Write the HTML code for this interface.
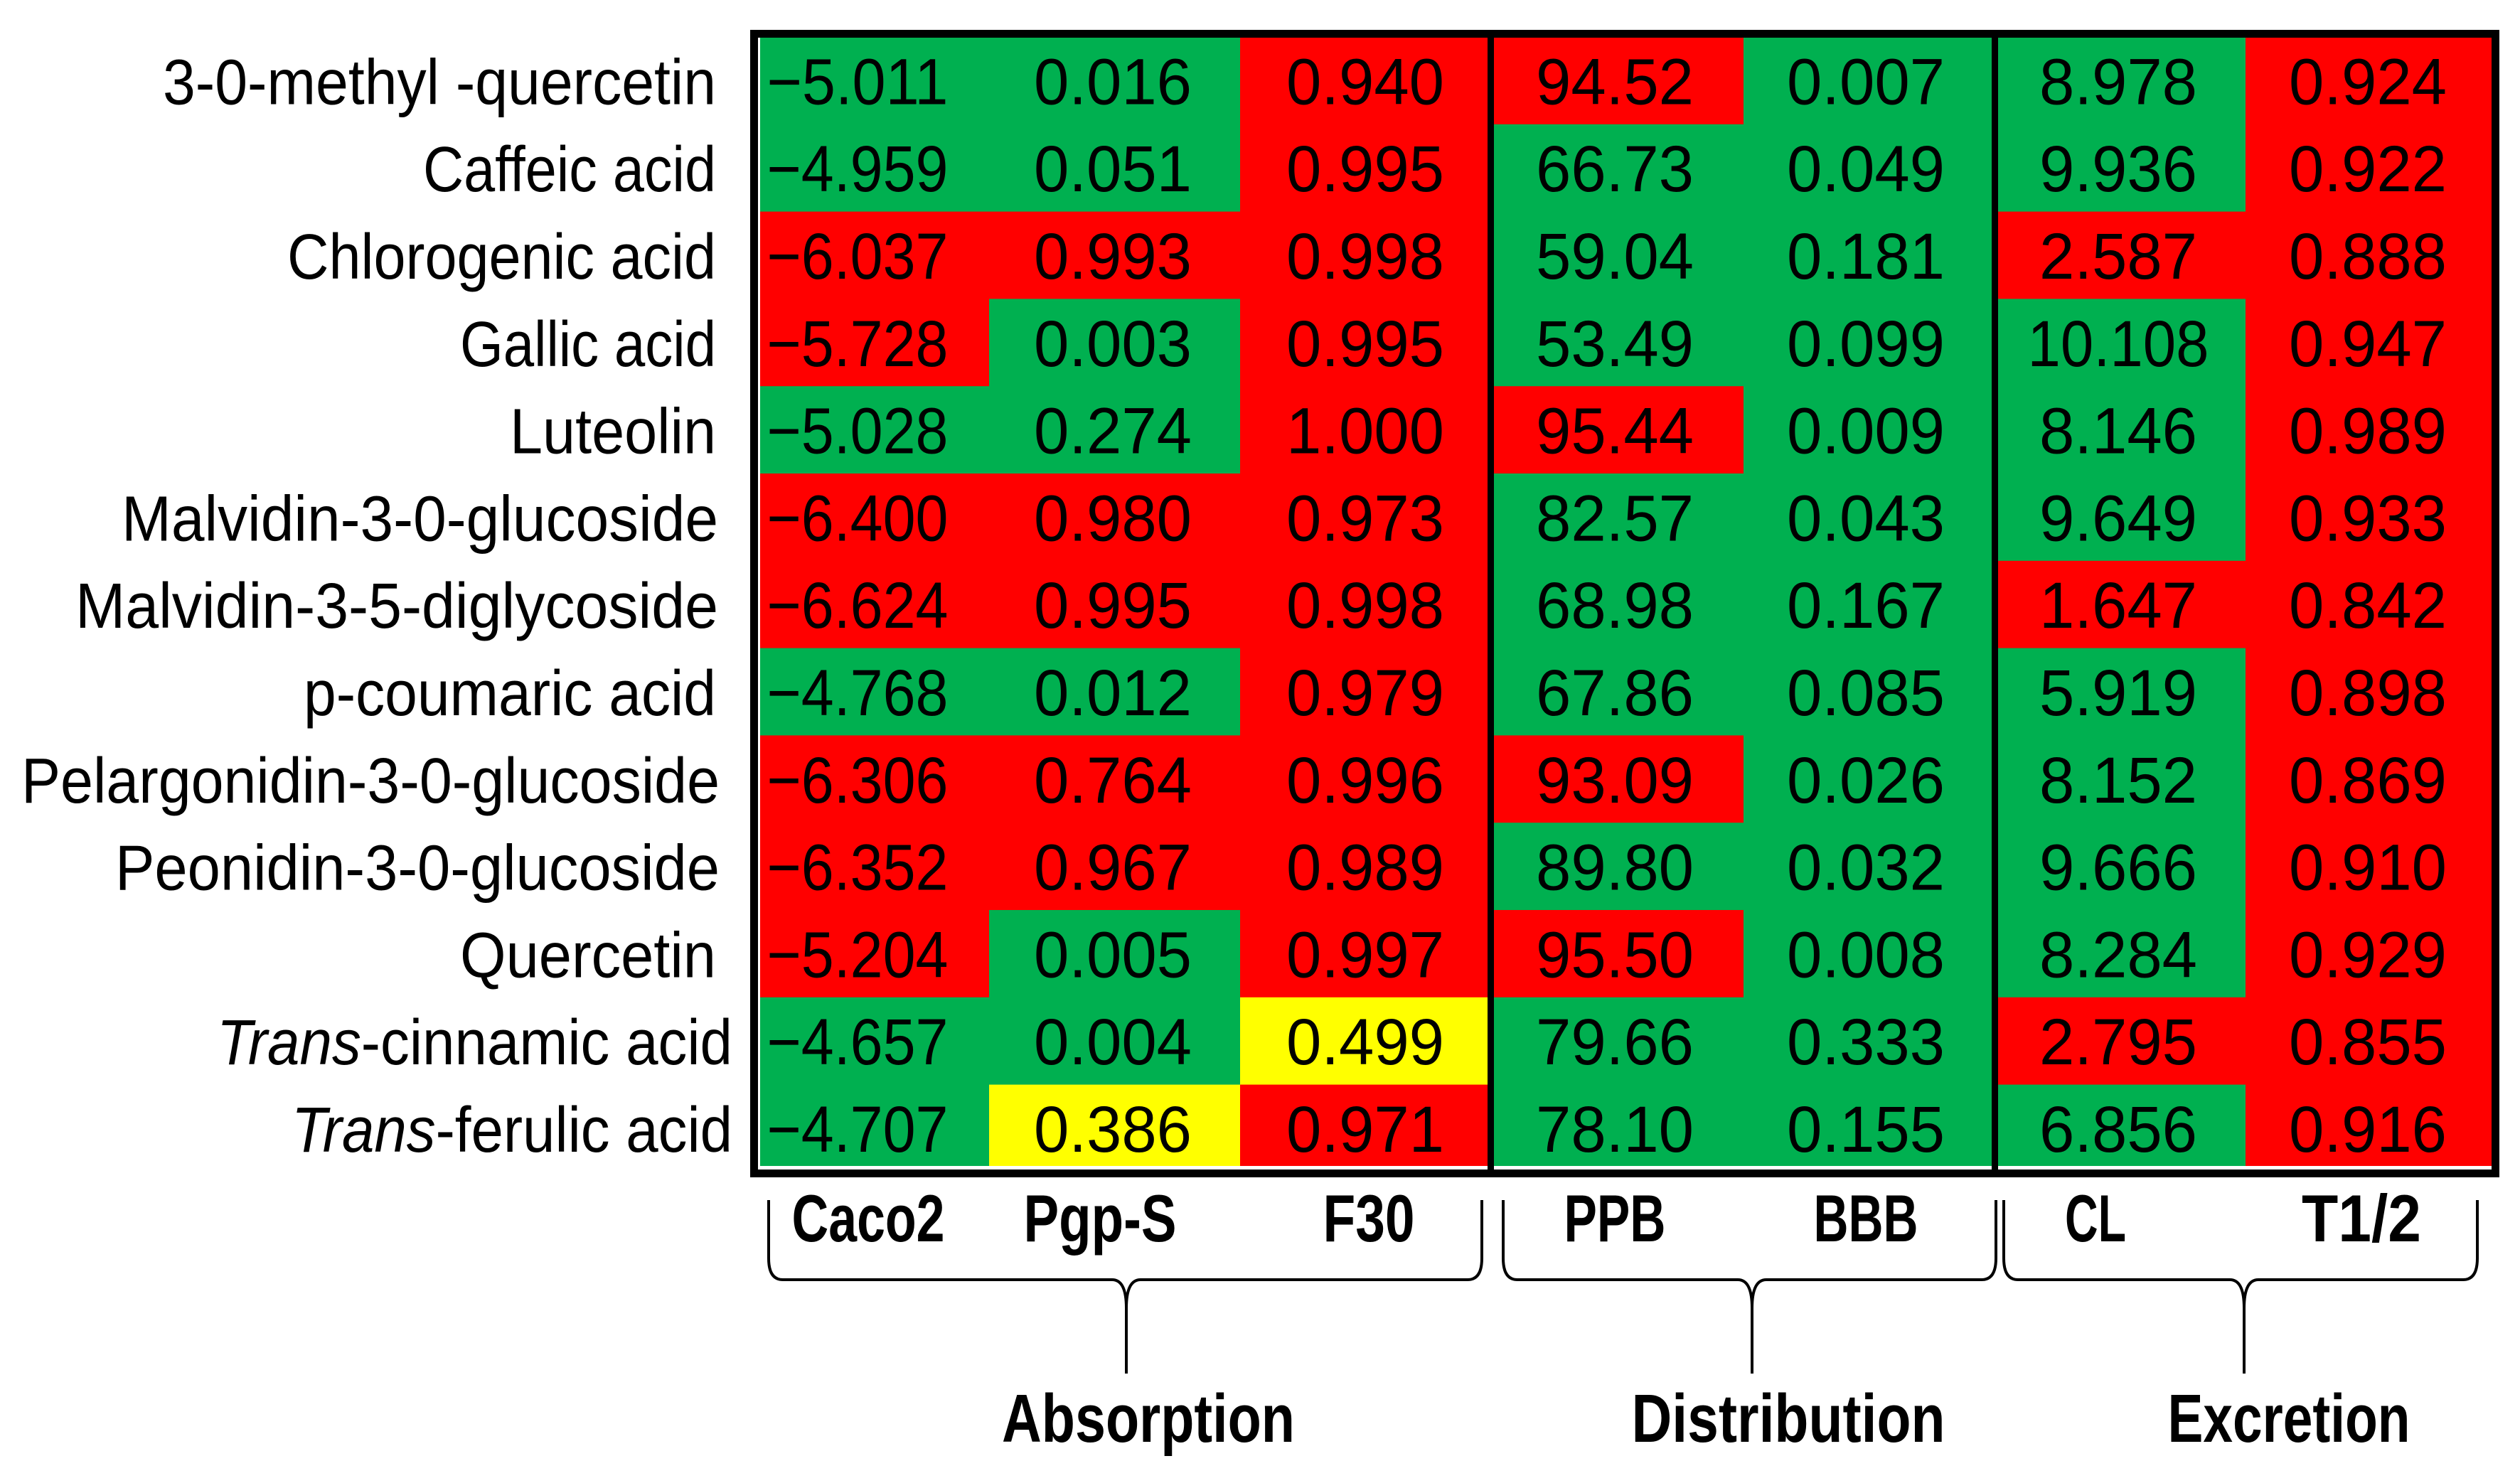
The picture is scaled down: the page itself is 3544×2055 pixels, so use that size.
<!DOCTYPE html>
<html><head><meta charset="utf-8"><style>
html,body{margin:0;padding:0;background:#fff;}
svg{display:block;}
text{font-family:"Liberation Sans",sans-serif;fill:#000;}
</style></head><body>
<svg id="chart" width="3544" height="2055" viewBox="0 0 3544 2055" xmlns="http://www.w3.org/2000/svg">
<rect x="0" y="0" width="3544" height="2055" fill="#fff"/>
<g id="cells"></g>
<g id="labels"></g>
<g id="frame"></g>
<g id="headers"></g>
</svg>
<script>
const compounds = ["3-0-methyl -quercetin","Caffeic acid","Chlorogenic acid","Gallic acid","Luteolin","Malvidin-3-0-glucoside","Malvidin-3-5-diglycoside","p-coumaric acid","Pelargonidin-3-0-glucoside","Peonidin-3-0-glucoside","Quercetin","Trans-cinnamic acid","Trans-ferulic acid"];
const columns = ["Caco2","Pgp-S","F30","PPB","BBB","CL","T1/2"];
const caco2 = ["\u22125.011","\u22124.959","\u22126.037","\u22125.728","\u22125.028","\u22126.400","\u22126.624","\u22124.768","\u22126.306","\u22126.352","\u22125.204","\u22124.657","\u22124.707"];
const pgps = ["0.016","0.051","0.993","0.003","0.274","0.980","0.995","0.012","0.764","0.967","0.005","0.004","0.386"];
const f30 = ["0.940","0.995","0.998","0.995","1.000","0.973","0.998","0.979","0.996","0.989","0.997","0.499","0.971"];
const ppb = ["94.52","66.73","59.04","53.49","95.44","82.57","68.98","67.86","93.09","89.80","95.50","79.66","78.10"];
const bbb = ["0.007","0.049","0.181","0.099","0.009","0.043","0.167","0.085","0.026","0.032","0.008","0.333","0.155"];
const cl = ["8.978","9.936","2.587","10.108","8.146","9.649","1.647","5.919","8.152","9.666","8.284","2.795","6.856"];
const thalf = ["0.924","0.922","0.888","0.947","0.989","0.933","0.842","0.898","0.869","0.910","0.929","0.855","0.916"];
const caco2Class = ["G","G","R","R","G","R","R","G","R","R","R","G","G"];
const pgpsClass  = ["G","G","R","G","G","R","R","G","R","R","G","G","Y"];
const f30Class   = ["R","R","R","R","R","R","R","R","R","R","R","Y","R"];
const ppbClass   = ["R","G","G","G","R","G","G","G","R","G","R","G","G"];
const bbbClass   = ["G","G","G","G","G","G","G","G","G","G","G","G","G"];
const clClass    = ["G","G","R","G","G","G","R","G","G","G","G","R","G"];
const thalfClass = ["R","R","R","R","R","R","R","R","R","R","R","R","R"];
const groups = ["Absorption","Distribution","Excretion"];

const NS="http://www.w3.org/2000/svg";
const colVals=[caco2,pgps,f30,ppb,bbb,cl,thalf];
const colCls=[caco2Class,pgpsClass,f30Class,ppbClass,bbbClass,clClass,thalfClass];
const colEdges=[[1069,1391],[1391,1744],[1744,2092],[2101,2452],[2452,2801],[2809,3158],[3158,3504]];
const textX=[1206,1565,1920,2271,2624,2979,3330];
const headX=[1221,1547,1925,2271,2624,2947,3321];
const headLen=[215,215,129,143,147,86,168];
const top0=52, rowH=122.8;
const colorMap={G:"#00B050",R:"#FF0000",Y:"#FFFF00"};
function rowY(i){return top0+rowH*i;}
function mk(tag,attrs,parent){const e=document.createElementNS(NS,tag);for(const k in attrs)e.setAttribute(k,attrs[k]);parent.appendChild(e);return e;}

const cellsG=document.getElementById('cells');
const labelsG=document.getElementById('labels');
for(let c=0;c<columns.length;c++){
  for(let r=0;r<compounds.length;r++){
    const rc=mk('rect',{x:colEdges[c][0],y:rowY(r),width:colEdges[c][1]-colEdges[c][0]+0.5,height:rowH+0.5,fill:colorMap[colCls[c][r]]},cellsG);
    
    
    const t=mk('text',{x:textX[c],y:rowY(r)+rowH/2+33,'text-anchor':'middle','font-size':92,textLength:String(colVals[c][r]).length>5?255:222,lengthAdjust:'spacingAndGlyphs'},cellsG);
    t.textContent=colVals[c][r];
    
    
  }
}
mk('rect',{x:1069,y:1640,width:2435,height:5,fill:'#fff'},cellsG);

const labelRight=[1007,1007,1007,1007,1007,1010,1010,1007,1012,1012,1007,1030,1030];
const labelLen=[778,412,603,360,290,839,904,580,982,850,360,725,620];
for(let r=0;r<compounds.length;r++){
  const t=mk('text',{x:labelRight[r],y:rowY(r)+rowH/2+33,'text-anchor':'end','font-size':90,textLength:labelLen[r],lengthAdjust:'spacingAndGlyphs'},labelsG);
  
  
  const name=compounds[r];
  if(name.startsWith('Trans')){
    const it=mk('tspan',{'font-style':'italic'},t); it.textContent='Trans';
    const rest=mk('tspan',{},t); rest.textContent=name.slice(5);
  } else t.textContent=name;
}

const frameG=document.getElementById('frame');
mk('rect',{x:1060.5,y:47.5,width:2449,height:1603,fill:'none',stroke:'#000','stroke-width':11},frameG);
mk('rect',{x:2092,y:47,width:9,height:1600,fill:'#000'},frameG);
mk('rect',{x:2801,y:47,width:9,height:1600,fill:'#000'},frameG);

const headG=document.getElementById('headers');
for(let c=0;c<columns.length;c++){
  const t=mk('text',{x:headX[c],y:1746,'text-anchor':'middle','font-size':94,'font-weight':'bold',textLength:headLen[c],lengthAdjust:'spacingAndGlyphs'},headG);
  t.textContent=columns[c];
  
  
}
const brackets=[[1081,2084,1584],[2114,2807,2464],[2818,3484,3156]];
const groupX=[1615,2515,3219];
const groupLen=[412,441,341];
for(let g=0;g<groups.length;g++){
  const [a,b,m]=brackets[g];
  const d=`M${a},1688 L${a},1770 Q${a},1800 ${a+20},1800 L${m-20},1800 Q${m},1800 ${m},1840 L${m},1932 M${m},1840 Q${m},1800 ${m+20},1800 L${b-20},1800 Q${b},1800 ${b},1770 L${b},1688`;
  const p=mk('path',{d:d,fill:'none',stroke:'#000','stroke-width':4},headG);
  
  
  const t=mk('text',{x:groupX[g],y:2028,'text-anchor':'middle','font-size':96,'font-weight':'bold',textLength:groupLen[g],lengthAdjust:'spacingAndGlyphs'},headG);
  t.textContent=groups[g];
  
  
}
</script>
</body></html>
